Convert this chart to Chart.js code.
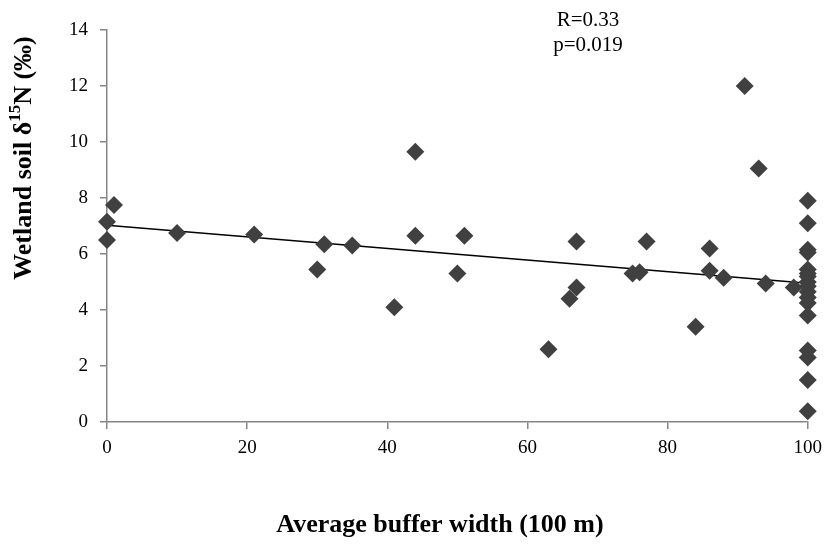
<!DOCTYPE html>
<html>
<head>
<meta charset="utf-8">
<script src="https://cdn.jsdelivr.net/npm/chart.js@4"></script>
<style>
  html, body { margin: 0; padding: 0; background: #fff; }
  #wrap { width: 830px; height: 544px; }
</style>
</head>
<body>
<div id="wrap"><canvas id="scatterChart"></canvas></div>
<script>
// buffer width (100 m) vs wetland soil d15N
const bufferWidth = [0, 0, 1, 10, 21, 30, 31, 35, 41, 44, 44, 50, 51, 63, 66, 67, 67, 75, 76, 77, 84, 86, 86, 88, 91, 93, 94, 98,
    100, 100, 100, 100, 100, 100, 100, 100, 100, 100, 100, 100, 100, 100, 100, 100, 100];
const soilN15 = [7.15, 6.5, 7.75, 6.75, 6.7, 5.45, 6.35, 6.3, 4.1, 9.65, 6.65, 5.3, 6.65, 2.6, 4.4, 4.8, 6.45, 5.3, 5.35, 6.45, 3.4, 6.2, 5.4, 5.15, 12.0, 9.05, 4.95, 4.8,
    7.9, 7.1, 6.15, 6.05, 5.45, 5.3, 5.2, 5.0, 4.85, 4.65, 4.45, 4.25, 3.8, 2.55, 2.3, 1.5, 0.38];
const xTicks = [0, 20, 40, 60, 80, 100];
const yTicks = [0, 2, 4, 6, 8, 10, 12, 14];
const statsText = ["R=0.33", "p=0.019"];
const xTitle = "Average buffer width (100 m)";

const points = bufferWidth.map((x, i) => ({ x: x, y: soilN15[i] }));

// least squares trend line
const n = points.length;
const mx = bufferWidth.reduce((a, b) => a + b, 0) / n;
const my = soilN15.reduce((a, b) => a + b, 0) / n;
let sxy = 0, sxx = 0;
points.forEach(p => { sxy += (p.x - mx) * (p.y - my); sxx += (p.x - mx) * (p.x - mx); });
const slope = sxy / sxx;
const intercept = my - slope * mx;
const trend = [0, 100].map(x => ({ x: x, y: intercept + slope * x }));

const serif = "'Liberation Serif', 'Times New Roman', serif";

const extraText = {
    id: "extraText",
    afterDraw(chart) {
        const ctx = chart.ctx;
        ctx.save();
        ctx.fillStyle = "#000";
        ctx.textAlign = "center";
        ctx.textBaseline = "middle";
        ctx.font = "21px " + serif;
        ctx.fillText(statsText[0], 588, 20);
        ctx.fillText(statsText[1], 588, 45);

        ctx.font = "bold 26px " + serif;
        ctx.fillText(xTitle, 440, 525);

        // y axis title with superscript
        ctx.translate(24, 158);
        ctx.rotate(-Math.PI / 2);
        const big = "bold 26px " + serif;
        const small = "bold 17px " + serif;
        const parts = [["Wetland soil \u03b4", big, 0], ["15", small, -8], ["N (\u2030)", big, 0]];
        let total = 0;
        parts.forEach(p => { ctx.font = p[1]; total += ctx.measureText(p[0]).width; });
        let px = -total / 2;
        ctx.textAlign = "left";
        parts.forEach(p => {
            ctx.font = p[1];
            ctx.fillText(p[0], px, p[2]);
            px += ctx.measureText(p[0]).width;
        });
        ctx.restore();
    }
};

new Chart(document.getElementById("scatterChart"), {
    type: "scatter",
    data: {
        datasets: [{
            data: points,
            pointStyle: "rectRot",
            pointRadius: 9,
            pointHoverRadius: 9,
            backgroundColor: "#404040",
            borderColor: "#404040",
            borderWidth: 0,
            clip: false
        }, {
            type: "line",
            data: trend,
            borderColor: "#000",
            borderWidth: 1.5,
            pointRadius: 0,
            fill: false
        }]
    },
    options: {
        responsive: true,
        maintainAspectRatio: false,
        animation: false,
        layout: { padding: { top: 30, right: 20, left: 0, bottom: 0 } },
        plugins: { legend: { display: false }, tooltip: { enabled: false } },
        scales: {
            x: {
                type: "linear",
                min: 0,
                max: 100,
                afterBuildTicks: s => { s.ticks = xTicks.map(v => ({ value: v })); },
                afterFit: s => { s.height = 122; },
                grid: { drawOnChartArea: false, color: "#868686", tickLength: 7, lineWidth: 1.5 },
                border: { color: "#868686", width: 1.5 },
                ticks: { color: "#000", font: { family: serif, size: 19 }, padding: 8 }
            },
            y: {
                min: 0,
                max: 14,
                afterBuildTicks: s => { s.ticks = yTicks.map(v => ({ value: v })); },
                afterFit: s => { s.width = 107; },
                grid: { drawOnChartArea: false, color: "#868686", tickLength: 7, lineWidth: 1.5 },
                border: { color: "#868686", width: 1.5 },
                ticks: { color: "#000", font: { family: serif, size: 19 }, padding: 12 }
            }
        }
    },
    plugins: [extraText]
});
</script>
</body>
</html>
